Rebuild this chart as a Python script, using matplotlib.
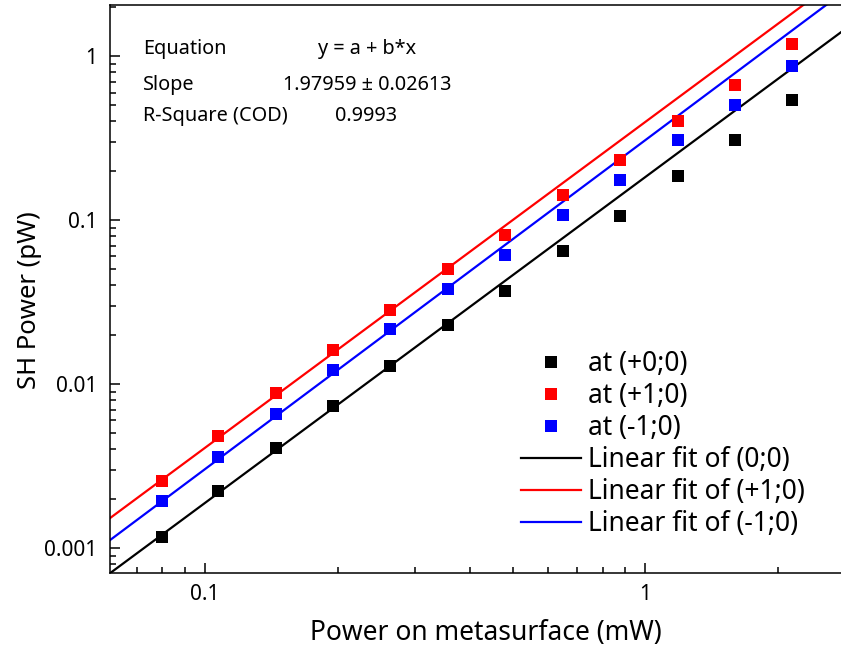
import numpy as np
import matplotlib
matplotlib.use("Agg")
import matplotlib.pyplot as plt
from matplotlib.ticker import LogLocator, FixedFormatter, FixedLocator, NullFormatter

plt.rcParams['font.family'] = ['Noto Sans', 'DejaVu Sans']

# --- data ---
power_mw = [0.0798, 0.107, 0.145, 0.195, 0.263, 0.357, 0.481, 0.651, 0.878, 1.19, 1.60, 2.16]
sh_00 = [0.00117, 0.00223, 0.00407, 0.00735, 0.0129, 0.0229, 0.0369, 0.0647, 0.106, 0.185, 0.307, 0.539]
sh_p10 = [0.00256, 0.00482, 0.00881, 0.0161, 0.0283, 0.0503, 0.0810, 0.142, 0.232, 0.402, 0.665, 1.18]
sh_m10 = [0.00194, 0.00359, 0.00656, 0.0122, 0.0216, 0.0379, 0.0612, 0.107, 0.175, 0.307, 0.503, 0.869]

# linear fits in log-log space: log10(y) = a + b*log10(x)
fit_00 = (-0.738, 1.986)
fit_p10 = (-0.402, 1.986)
fit_m10 = (-0.513, 2.005)

x_ticks = [0.1, 1]
x_tick_labels = ["0.1", "1"]
y_ticks = [0.001, 0.01, 0.1, 1]
y_tick_labels = ["0.001", "0.01", "0.1", "1"]

W, H = 841, 648
fig = plt.figure(figsize=(W / 100, H / 100), dpi=100)
ax = fig.add_axes([110 / W, (H - 573) / H, (862 - 110) / W, (573 - 5) / H])

xlim = (0.0608, 3.11)
ax.set_xscale('log')
ax.set_yscale('log')
ax.set_xlim(*xlim)
ax.set_ylim(0.000705, 2.05)

ms = 9.3
ax.plot(power_mw, sh_00, 's', color='black', ms=ms, mew=0, label='at (+0;0)', zorder=3)
ax.plot(power_mw, sh_p10, 's', color='#ff0000', ms=ms, mew=0, label='at (+1;0)', zorder=3)
ax.plot(power_mw, sh_m10, 's', color='#0000ff', ms=ms, mew=0, label='at (-1;0)', zorder=3)

xf = np.array(xlim)
for (a, b), c, lab in [(fit_00, 'black', 'Linear fit of (0;0)'),
                       (fit_p10, '#ff0000', 'Linear fit of (+1;0)'),
                       (fit_m10, '#0000ff', 'Linear fit of (-1;0)')]:
    ax.plot(xf, 10 ** (a + b * np.log10(xf)), '-', color=c, lw=1.6, label=lab, zorder=2)

# ticks
ax.xaxis.set_major_locator(FixedLocator(x_ticks))
ax.xaxis.set_major_formatter(FixedFormatter(x_tick_labels))
ax.xaxis.set_minor_locator(LogLocator(base=10, subs=np.arange(2, 10)))
ax.xaxis.set_minor_formatter(NullFormatter())
ax.yaxis.set_major_locator(FixedLocator(y_ticks))
ax.yaxis.set_major_formatter(FixedFormatter(y_tick_labels))
ax.yaxis.set_minor_locator(LogLocator(base=10, subs=np.arange(2, 10)))
ax.yaxis.set_minor_formatter(NullFormatter())
ax.tick_params(which='both', direction='in', top=False, right=False, width=1.1)
ax.tick_params(which='major', length=7, labelsize=15)
ax.tick_params(axis='x', which='major', pad=8)
ax.tick_params(axis='y', which='major', pad=9)
ax.tick_params(which='minor', length=4)
for s in ax.spines.values():
    s.set_linewidth(1.1)
ax.spines['right'].set_visible(False)

ax.set_xlabel('Power on metasurface (mW)', fontsize=19)
ax.set_ylabel('SH Power (pW)', fontsize=18.5)
ax.xaxis.set_label_coords((486 - 110) / (862 - 110), (573 - 619) / 568)
ax.yaxis.set_label_coords((42 - 110) / (862 - 110), (573 - 300) / 568)

# fit result table
rows = [("Equation", "y = a + b*x", 318, 49),
        ("Slope", "1.97959 \u00b1 0.02613", 283, 85),
        ("R-Square (COD)", "0.9993", 335, 116)]
for name, val, xv, yv in rows:
    fig.text(143 / W, 1 - yv / H, name, fontsize=14.3, va='center', ha='left')
    fig.text(xv / W, 1 - yv / H, val, fontsize=14.3, va='center', ha='left')

ax.legend(loc='upper left', bbox_to_anchor=(521 / W, 1 - 350 / H), bbox_transform=fig.transFigure,
          frameon=False, fontsize=19, borderpad=0, borderaxespad=0, markerscale=0.88,
          handlelength=2.27, handletextpad=0.27, labelspacing=0.15)

fig.savefig('out.png', dpi=100)
